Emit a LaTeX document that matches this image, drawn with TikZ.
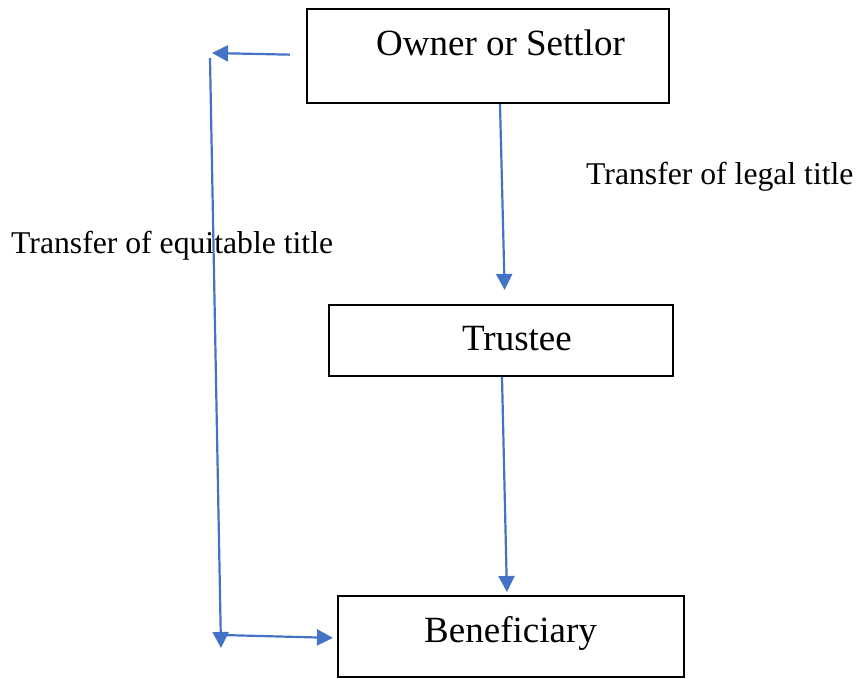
\documentclass[tikz,border=0pt]{standalone}
\usepackage{fontspec}
\setmainfont{Liberation Serif}
\usetikzlibrary{arrows.meta}
\definecolor{linkblue}{RGB}{68,114,196}

\begin{document}
\begin{tikzpicture}[x=1pt, y=-1pt, >={Triangle[length=16pt,width=16pt]},
	every box/.style={draw, line width=2pt, inner sep=0pt},
	box text/.style={inner sep=0pt, anchor=base, font=\fontsize{37}{40}\selectfont},
	side text/.style={inner sep=0pt, anchor=base west, font=\fontsize{31.7}{36}\selectfont},
	link/.style={->, draw=linkblue, line width=2.2pt}]

		\useasboundingbox (0,0) rectangle (860,678);

		% draw boxes
		\foreach \n/\x/\y/\w/\h in {owner/488/56/362/94, trustee/500.5/340.5/344/71, benef/511/636.5/346/81}
			\node [every box, minimum width=\w pt, minimum height=\h pt] (\n) at (\x,\y) {};

		% box texts
		\foreach \n/\x/\y/\l in {owner/500.5/55/Owner or Settlor, trustee/517/350/Trustee, benef/510.5/642/Beneficiary}
			\node [box text] (\n-text) at (\x,\y) {\l};

		% side labels
		\node [side text] (legal) at (586,184) {Transfer of legal title};
		\node [side text] (equit) at (11,253) {Transfer of equitable title};

		% corner points
		\coordinate (eq-top) at (212,53);
		\coordinate (eq-start) at (210,58);
		\coordinate (eq-end) at (221,648);
		\coordinate (eq-bottom) at (222,635);

		% legal title down the chain
		\draw [link, shorten >=14pt] ([xshift=12pt]owner.south) -- ([xshift=4.5pt]trustee.north);
		\draw [link, shorten >=3pt] ([xshift=1.5pt]trustee.south) -- ([xshift=-4pt]benef.north);

		% equitable title round the left
		\draw [link, shorten <=16pt] ([yshift=1pt]owner.west) -- (eq-top);
		\draw [link] (eq-start) -- (eq-end);
		\draw [link, shorten >=4pt] (eq-bottom) -- ([yshift=-1.5pt]benef.west);

\end{tikzpicture}
\end{document}
